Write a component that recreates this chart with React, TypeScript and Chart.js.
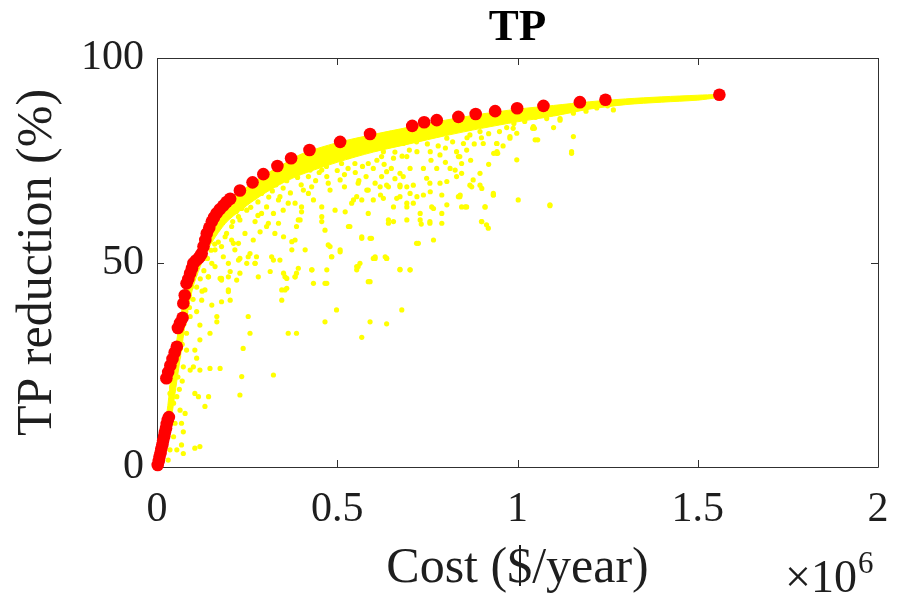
import React, { useEffect, useRef } from "react";
import { Chart, registerables } from "chart.js";

Chart.register(...registerables);

// Cost in units of 10^6 $/year, reduction in %
const chartTitle = "TP";
const xAxisLabel = "Cost ($/year)";
const yAxisLabel = "TP reduction (%)";
const xExponentBase = "×10";
const xExponent = "6";

const paretoFront: [number, number][] = [
  [0.002, 0.5], [0.005, 1.5], [0.007, 2.5], [0.010, 3.5], [0.012, 4.5], [0.015, 5.5],
  [0.017, 6.5], [0.020, 7.5], [0.022, 8.5], [0.025, 9.5], [0.027, 10.5], [0.030, 11.5],
  [0.033, 12.2],
  [0.026, 21.7], [0.031, 23.2], [0.037, 24.8], [0.043, 26.4], [0.049, 28.0], [0.055, 29.4],
  [0.058, 34.0], [0.064, 35.2], [0.071, 36.5],
  [0.073, 40.0], [0.077, 42.0], [0.082, 44.9], [0.087, 46.0], [0.092, 47.4], [0.097, 48.6],
  [0.101, 49.8], [0.108, 50.5], [0.115, 51.0], [0.120, 51.6], [0.124, 52.2],
  [0.129, 53.9], [0.134, 55.5], [0.138, 57.1], [0.145, 58.5], [0.152, 60.0], [0.158, 61.0],
  [0.165, 62.0], [0.174, 63.0], [0.184, 63.9], [0.193, 64.8], [0.203, 65.6],
  [0.230, 67.6], [0.265, 69.6], [0.295, 71.6], [0.334, 73.6], [0.372, 75.5], [0.423, 77.5],
  [0.508, 79.5], [0.591, 81.4], [0.708, 83.4], [0.741, 84.3], [0.776, 84.8], [0.836, 85.6],
  [0.884, 86.3], [0.938, 87.0], [0.999, 87.7], [1.072, 88.3], [1.173, 89.2], [1.244, 89.8],
  [1.560, 91.0],
];

const allSolutions: [number, number][] = [
  [1.002, 65.3], [0.998, 75.1], [0.945, 76.7], [0.914, 59.2], [0.900, 60.0], [0.896, 71.8],
  [0.933, 66.9], [0.910, 63.6], [0.877, 70.2], [0.840, 66.1], [0.845, 63.6], [0.845, 71.8],
  [0.840, 75.9], [0.790, 62.0], [0.767, 55.5], [0.757, 60.0], [0.790, 66.5], [0.785, 69.4],
  [0.757, 69.4], [0.730, 62.0], [0.733, 59.4], [0.720, 54.7], [0.693, 64.5], [0.693, 68.5],
  [0.683, 71.0], [0.674, 66.1], [0.656, 63.6], [0.656, 60.0], [0.642, 59.6], [0.637, 51.0],
  [0.702, 48.2], [0.674, 48.2], [0.600, 51.0], [0.591, 55.9], [0.568, 55.9], [0.619, 68.5],
  [0.600, 65.3], [0.582, 67.7], [0.554, 66.1], [0.545, 65.3], [0.535, 58.8], [0.522, 62.4],
  [0.508, 70.2], [0.480, 67.7], [0.471, 71.0], [0.457, 63.6], [0.457, 60.0], [0.434, 65.3],
  [0.425, 72.6], [0.406, 67.7], [0.401, 63.6], [0.397, 60.4], [0.387, 58.8], [0.374, 55.1],
  [0.351, 56.3], [0.341, 50.6], [0.351, 47.4], [0.360, 43.7], [0.341, 66.1], [0.323, 62.0],
  [0.304, 58.8], [0.286, 57.5], [0.267, 55.5], [0.258, 52.2], [0.276, 51.4], [0.249, 49.8],
  [0.230, 47.4], [0.221, 45.7], [0.179, 46.1], [0.212, 54.7], [0.193, 57.1], [0.230, 60.4],
  [0.249, 62.8], [0.304, 63.6], [0.480, 53.9], [0.434, 44.9], [0.387, 47.4], [0.471, 48.2],
  [0.508, 53.1], [0.554, 48.2],
  [0.323, 22.5], [0.230, 17.6], [0.235, 22.1], [0.258, 32.7], [0.253, 36.8], [0.239, 29.0],
  [0.364, 32.7], [0.387, 32.7], [0.355, 43.3], [0.346, 40.8], [0.360, 46.1], [0.383, 46.5],
  [0.392, 48.6], [0.430, 48.2], [0.466, 35.5], [0.471, 44.9], [0.498, 38.4], [0.508, 52.6],
  [0.484, 51.4], [0.554, 49.0], [0.563, 49.8], [0.591, 35.5], [0.591, 45.3], [0.568, 31.7],
  [0.605, 51.0], [0.637, 51.0], [0.637, 35.0], [0.674, 48.3], [0.702, 48.2], [0.679, 38.4],
  [0.323, 50.6], [0.314, 47.8], [0.272, 49.8], [0.175, 24.1], [0.147, 24.1], [0.119, 23.7],
  [0.143, 17.2], [0.115, 17.2], [0.105, 18.0], [0.133, 14.8], [0.119, 5.0], [0.105, 4.6],
  [0.068, 5.4], [0.073, 3.3], [0.055, 4.2], [0.073, 8.6], [0.068, 10.7], [0.078, 13.1],
  [0.055, 17.2], [0.041, 19.6], [0.046, 15.6], [0.119, 31.1], [0.119, 34.7], [0.105, 28.6],
  [0.110, 26.6], [0.147, 32.7], [0.166, 35.5], [0.166, 36.8], [0.152, 39.6], [0.179, 40.4],
  [0.203, 40.8], [0.198, 42.9], [0.124, 40.8], [0.143, 46.5], [0.175, 46.1], [0.203, 47.8],
  [0.230, 51.0], [0.184, 51.4], [0.082, 32.7], [0.092, 36.8], [0.115, 49.8], [0.152, 49.8],
  [0.036, 18.0], [0.050, 10.7], [0.064, 13.9], [0.046, 7.4], [0.036, 4.2], [0.031, 1.7],
  [0.092, 23.7], [0.101, 24.5], [0.073, 24.5], [0.082, 28.6],
  [1.155, 80.8], [1.150, 77.1], [1.090, 63.9], [1.049, 80.0], [1.042, 82.8], [0.942, 76.7],
  [0.942, 79.1], [0.979, 80.8], [0.933, 66.5], [0.919, 58.4], [0.901, 60.0], [0.910, 63.6],
  [0.901, 68.1], [0.873, 68.5], [0.855, 63.6], [0.836, 66.1], [0.827, 72.6], [0.836, 75.9],
  [0.790, 59.6], [0.757, 59.6], [0.730, 60.4], [0.725, 54.7], [0.762, 63.6], [0.693, 63.6],
  [0.693, 60.4], [0.702, 66.9], [0.721, 66.1], [0.674, 68.5], [1.118, 84.8], [1.081, 85.2],
  [1.266, 87.3], [1.155, 86.5], [1.044, 83.2], [0.998, 81.6], [0.905, 79.1], [0.859, 77.5],
  [0.623, 75.9], [0.586, 74.2], [0.549, 74.2], [0.512, 74.2], [0.494, 75.5], [0.531, 75.9],
  [0.457, 72.6], [0.475, 69.4], [0.429, 68.5], [0.420, 66.9], [0.383, 64.5], [0.364, 64.5],
  [0.337, 65.3], [0.401, 62.4], [0.392, 60.4], [0.337, 59.6], [0.309, 59.6], [0.290, 62.0],
  [0.272, 60.0], [0.244, 57.1], [0.226, 54.7], [0.216, 53.1], [0.253, 51.4], [0.272, 49.8],
  [0.226, 50.6], [0.198, 49.8], [0.161, 49.0], [0.207, 58.8], [0.226, 61.2], [0.216, 66.1],
  [0.244, 66.1], [0.263, 68.5], [0.290, 66.9], [0.318, 69.8], [0.346, 71.0], [0.374, 71.8],
  [0.411, 73.0], [0.327, 57.1], [0.383, 55.5], [0.374, 53.1], [0.411, 53.1], [0.475, 54.3],
  [0.485, 51.4], [0.466, 57.9], [0.457, 61.2], [0.494, 62.8], [0.531, 58.8], [0.540, 64.5],
  [0.568, 65.3], [0.558, 69.4], [0.586, 67.7], [0.605, 69.4], [0.623, 71.0], [0.642, 68.5],
  [0.586, 62.0], [0.568, 56.3], [0.595, 55.9], [0.642, 60.4], [0.605, 51.4], [0.633, 51.4],
  [0.558, 49.0], [0.429, 48.2], [0.383, 46.5], [0.355, 46.5], [0.318, 51.4], [0.281, 46.5],
  [0.198, 46.5], [0.179, 45.7], [0.142, 46.5], [0.133, 43.3], [0.198, 43.3], [0.346, 43.3],
  [0.466, 44.9], [0.586, 45.3], [0.207, 55.5], [0.179, 53.9], [0.161, 53.1], [0.189, 56.3],
  [0.170, 58.8], [0.198, 62.0], [0.235, 63.2],
  [1.150, 76.7], [1.056, 80.0], [1.047, 82.8], [1.090, 64.1], [1.118, 85.2], [0.943, 79.1],
  [0.934, 76.7], [0.896, 68.9], [0.868, 68.9], [0.845, 74.2], [0.831, 77.1], [0.813, 73.0],
  [0.850, 79.1], [0.804, 80.4], [0.767, 81.2], [0.739, 80.4], [0.711, 81.2], [0.683, 79.1],
  [0.656, 79.1], [0.637, 80.4], [0.628, 77.1], [0.656, 75.5], [0.693, 75.9], [0.721, 77.1],
  [0.758, 77.1], [0.785, 76.3], [0.776, 73.0], [0.739, 73.0], [0.702, 73.0], [0.674, 71.8],
  [0.637, 72.2], [0.637, 68.9], [0.674, 68.9], [0.711, 68.9], [0.748, 70.6], [0.758, 67.3],
  [0.804, 69.8], [0.831, 71.0], [0.841, 66.5], [0.804, 64.1], [0.628, 65.7], [0.665, 65.7],
  [0.711, 64.5], [0.739, 66.5], [0.767, 63.2], [0.859, 63.6], [0.933, 66.5], [0.943, 77.1],
  [0.979, 80.4], [0.988, 82.8], [0.896, 82.0], [0.868, 81.2],
  [0.070, 30.0], [0.075, 35.0], [0.080, 38.0], [0.085, 41.0], [0.090, 42.0], [0.095, 44.0],
  [0.100, 46.0], [0.105, 47.0], [0.060, 27.0], [0.065, 29.0], [0.058, 22.0], [0.062, 19.0],
  [0.070, 21.0], [0.090, 39.0], [0.100, 41.0], [0.110, 44.0], [0.120, 46.0], [0.130, 48.0],
  [0.110, 38.0], [0.125, 43.0], [0.140, 51.0], [0.150, 53.0], [0.160, 54.5], [0.130, 51.0],
  [0.170, 55.0],
  [0.210, 60.0], [0.220, 62.5], [0.240, 64.0], [0.260, 63.5], [0.270, 66.0], [0.280, 64.8],
  [0.300, 68.0], [0.310, 66.0], [0.320, 67.5], [0.330, 69.0], [0.350, 68.2], [0.360, 70.0],
  [0.370, 67.0], [0.390, 70.8], [0.400, 69.0], [0.420, 71.0], [0.440, 70.0], [0.450, 72.0],
  [0.280, 61.5], [0.350, 62.8],
  [0.470, 73.5], [0.500, 72.5], [0.520, 71.5], [0.530, 73.0], [0.550, 72.0], [0.570, 73.5],
  [0.580, 71.0], [0.600, 73.0], [0.610, 75.0], [0.630, 74.0], [0.650, 73.0], [0.660, 77.0],
  [0.680, 76.0], [0.700, 77.5], [0.520, 68.5], [0.560, 70.0], [0.620, 66.5], [0.660, 70.5],
  [0.720, 79.5], [0.750, 79.0], [0.780, 78.5], [0.800, 78.0], [0.820, 79.5], [0.860, 80.5],
  [0.880, 79.0], [0.900, 80.5], [0.920, 81.5], [0.950, 82.0], [0.970, 83.0], [0.990, 84.0],
  [0.760, 75.0], [0.800, 74.5], [0.870, 75.0], [0.920, 74.0], [0.960, 78.5],
  [1.020, 84.5], [1.050, 85.5], [1.080, 86.5], [1.120, 86.8], [1.150, 87.5], [1.190, 87.0],
  [1.220, 87.8], [1.250, 88.3], [1.100, 83.0],
];

// Dense solution band just under the Pareto front
const bandCost = [0, 0.01, 0.02, 0.03, 0.04, 0.05, 0.06, 0.07, 0.08, 0.1, 0.12, 0.14, 0.16, 0.18, 0.2,
  0.25, 0.3, 0.35, 0.4, 0.5, 0.6, 0.7, 0.8, 0.9, 1.0, 1.1, 1.2, 1.3, 1.4, 1.5, 1.555];
const bandUpper = [0.5, 4, 9, 15, 23, 28, 34, 39, 43.5, 49, 52.5, 57, 60.5, 63, 64.8,
  68.5, 71.5, 74, 76.5, 79.3, 81.3, 83.1, 84.8, 86.3, 87.5, 88.4, 89.3, 90, 90.5, 90.9, 91.1];
const bandLower = [0, 0.5, 3, 7, 12, 18, 24, 30, 36, 44, 49, 53, 56, 58.5, 60.5,
  64, 67, 69.5, 71.5, 74.5, 77, 79, 81, 82.8, 84.4, 85.8, 87.5, 88.6, 89.2, 89.7, 90.3];

const xMin = 0, xMax = 2, xStep = 0.5;
const yMin = 0, yMax = 100, yStep = 50;

const FONT = "'Liberation Serif', 'Times New Roman', serif";
const AXIS_COLOR = "#303030";
const TEXT_COLOR = "#1e1e1e";

const matlabAxes = {
  id: "matlabAxes",
  beforeDatasetsDraw(chart: any) {
    const { ctx, chartArea } = chart;
    const { left, right, top, bottom } = chartArea;
    const xs = chart.scales.x;
    const ys = chart.scales.y;
    ctx.save();
    ctx.strokeStyle = AXIS_COLOR;
    ctx.lineWidth = 1;
    ctx.beginPath();
    ctx.rect(Math.round(left) + 0.5, Math.round(top) + 0.5, Math.round(right - left), Math.round(bottom - top));
    ctx.stroke();
    const tl = 7;
    ctx.beginPath();
    for (const t of xs.ticks) {
      const p = Math.round(xs.getPixelForValue(t.value)) + 0.5;
      ctx.moveTo(p, bottom); ctx.lineTo(p, bottom - tl);
      ctx.moveTo(p, top); ctx.lineTo(p, top + tl);
    }
    for (const t of ys.ticks) {
      const p = Math.round(ys.getPixelForValue(t.value)) + 0.5;
      ctx.moveTo(left, p); ctx.lineTo(left + tl, p);
      ctx.moveTo(right, p); ctx.lineTo(right - tl, p);
    }
    ctx.stroke();
    ctx.restore();
  },
  afterDraw(chart: any) {
    const { ctx, chartArea } = chart;
    ctx.save();
    ctx.fillStyle = TEXT_COLOR;
    ctx.textBaseline = "alphabetic";
    ctx.textAlign = "left";
    ctx.font = `46px ${FONT}`;
    const x0 = chartArea.right - 93;
    const yBase = chartArea.bottom + 125;
    ctx.fillText(xExponentBase, x0, yBase);
    const w = ctx.measureText(xExponentBase).width;
    ctx.font = `31px ${FONT}`;
    ctx.fillText(xExponent, x0 + w + 1, yBase - 19);
    ctx.restore();
  },
};

const plainNumber = (v: any) => String(Number(v));

export default function App() {
  const canvasRef = useRef<HTMLCanvasElement | null>(null);

  useEffect(() => {
    document.body.style.margin = "0";
    const canvas = canvasRef.current;
    if (!canvas) return;
    const chart = new Chart(canvas, {
      type: "scatter",
      data: {
        datasets: [
          {
            label: "Pareto front",
            data: paretoFront.map(([x, y]) => ({ x, y })),
            pointRadius: 6.3,
            pointHoverRadius: 6.3,
            backgroundColor: "#ff0000",
            borderColor: "#ff0000",
            borderWidth: 0,
            showLine: false,
            clip: false,
          } as any,
          {
            label: "Solutions",
            data: allSolutions.map(([x, y]) => ({ x, y })),
            pointRadius: 2.6,
            pointHoverRadius: 2.6,
            backgroundColor: "#ffff00",
            borderColor: "#ffff00",
            borderWidth: 0,
            showLine: false,
            clip: false,
          } as any,
          {
            type: "line",
            label: "band upper",
            data: bandCost.map((x, i) => ({ x, y: bandUpper[i] })),
            pointRadius: 0,
            borderColor: "#ffff00",
            borderWidth: 1,
            showLine: true,
            tension: 0.3,
            fill: false,
          } as any,
          {
            type: "line",
            label: "band lower",
            data: bandCost.map((x, i) => ({ x, y: bandLower[i] })),
            pointRadius: 0,
            borderColor: "#ffff00",
            backgroundColor: "#ffff00",
            borderWidth: 1,
            showLine: true,
            tension: 0.3,
            fill: "-1",
          } as any,
        ],
      },
      options: {
        animation: false,
        responsive: false,
        maintainAspectRatio: false,
        layout: { padding: { left: 0, right: 23, top: 0, bottom: 0 } },
        plugins: {
          legend: { display: false },
          tooltip: { enabled: false },
          title: {
            display: true,
            text: chartTitle,
            fullSize: false,
            color: "#000",
            font: { family: FONT, size: 45, weight: "bold", lineHeight: 1 },
            padding: { top: 5.5, bottom: 7.5 },
          },
        },
        scales: {
          x: {
            type: "linear",
            min: xMin,
            max: xMax,
            grid: { display: false, drawTicks: false },
            border: { display: false },
            ticks: {
              stepSize: xStep,
              padding: 18,
              color: TEXT_COLOR,
              font: { family: FONT, size: 42 },
              maxRotation: 0,
              callback: plainNumber,
            },
            title: {
              display: true,
              text: xAxisLabel,
              color: TEXT_COLOR,
              font: { family: FONT, size: 50, lineHeight: 1 },
              padding: { top: 0, bottom: 3 },
            },
            afterFit: (s: any) => {
              s.height = 130;
              s.paddingLeft = 0;
              s.paddingRight = 0;
            },
          },
          y: {
            type: "linear",
            min: yMin,
            max: yMax,
            grid: { display: false, drawTicks: false },
            border: { display: false },
            ticks: {
              stepSize: yStep,
              padding: 13,
              color: TEXT_COLOR,
              font: { family: FONT, size: 42 },
              callback: plainNumber,
            },
            title: {
              display: true,
              text: yAxisLabel,
              color: TEXT_COLOR,
              font: { family: FONT, size: 50, lineHeight: 1 },
              padding: { top: 13, bottom: 0 },
            },
            afterFit: (s: any) => { s.width = 157; },
          },
        },
      },
      plugins: [matlabAxes],
    });
    return () => chart.destroy();
  }, []);

  return (
    <div style={{ width: 901, height: 597, background: "#fff" }}>
      <canvas ref={canvasRef} width={901} height={597} style={{ display: "block" }} />
    </div>
  );
}
